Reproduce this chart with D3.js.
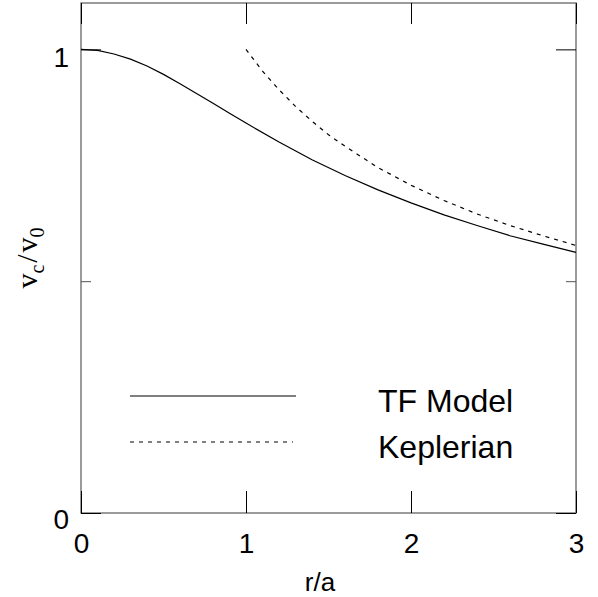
<!DOCTYPE html>
<html>
<head>
<meta charset="utf-8">
<script src="https://cdn.jsdelivr.net/npm/d3@7"></script>
<style>
  body { margin: 0; background: #fff; }
  svg { display: block; }
</style>
</head>
<body>
<div id="chart"></div>
<script>
// TF model rotation curve
const tfR = [0, 0.1, 0.2, 0.3, 0.4, 0.5, 0.6, 0.7, 0.8, 0.9, 1.0, 1.2, 1.4, 1.6, 1.8, 2.0, 2.2, 2.4, 2.6, 2.8, 3.0];
const tfV = [1.000, 0.998, 0.990, 0.979, 0.964, 0.946, 0.926, 0.905, 0.884, 0.862, 0.841, 0.800, 0.762, 0.728, 0.697, 0.669, 0.643, 0.620, 0.598, 0.580, 0.562];

// Keplerian fall-off beyond r = a
const kepR = [1.0, 1.1, 1.2, 1.3, 1.4, 1.5, 1.6, 1.8, 2.0, 2.2, 2.4, 2.6, 2.8, 3.0];
const kepV = [1.000, 0.953, 0.913, 0.877, 0.845, 0.816, 0.791, 0.745, 0.707, 0.674, 0.645, 0.620, 0.598, 0.577];

const xTicks = [0, 1, 2, 3];
const yTicks = [0, 1];
const yMinorTicks = [0.5];
const legendLabels = ['TF Model', 'Keplerian'];

const width = 598, height = 597;
const margin = { top: 3, right: 22, bottom: 84, left: 81 };
const innerW = width - margin.left - margin.right;
const innerH = height - margin.top - margin.bottom;

const svg = d3.select('#chart')
  .append('svg')
  .attr('width', width)
  .attr('height', height);

const g = svg.append('g')
  .attr('transform', `translate(${margin.left},${margin.top})`);

const x = d3.scaleLinear().domain([0, 3]).range([0, innerW]);
const y = d3.scaleLinear().domain([0, 1.1]).range([innerH, 0]);

// frame
g.append('rect')
  .attr('width', innerW)
  .attr('height', innerH)
  .attr('fill', 'none')
  .attr('stroke', '#666')
  .attr('stroke-width', 1.3);

const styleAxis = sel => {
  sel.select('.domain').remove();
  sel.selectAll('.tick line').attr('stroke', '#000').attr('stroke-width', 1);
  sel.selectAll('.tick text')
    .style('font-family', 'Liberation Sans, Arial, sans-serif')
    .style('font-size', '28px')
    .attr('fill', '#000');
};

// bottom axis with labels
g.append('g')
  .attr('transform', `translate(0,${innerH})`)
  .call(d3.axisBottom(x).tickValues(xTicks).tickFormat(d3.format('d'))
    .tickSizeInner(-22).tickSizeOuter(0).tickPadding(20))
  .call(styleAxis);

// top axis, ticks only
g.append('g')
  .call(d3.axisTop(x).tickValues(xTicks).tickFormat('')
    .tickSizeInner(-21).tickSizeOuter(0))
  .call(styleAxis);

// left axis with labels
g.append('g')
  .call(d3.axisLeft(y).tickValues(yTicks).tickFormat(d3.format('d'))
    .tickSizeInner(-20).tickSizeOuter(0).tickPadding(12))
  .call(styleAxis)
  .call(sel => sel.selectAll('.tick text').attr('dy', d => d === 0 ? '0.55em' : '0.6em'));

g.append('g')
  .call(d3.axisLeft(y).tickValues(yMinorTicks).tickFormat('')
    .tickSizeInner(-10).tickSizeOuter(0))
  .call(styleAxis)
  .call(sel => sel.selectAll('.tick line').attr('stroke', '#555'));

// right axis, ticks only
g.append('g')
  .attr('transform', `translate(${innerW},0)`)
  .call(d3.axisRight(y).tickValues(yTicks).tickFormat('')
    .tickSizeInner(-20).tickSizeOuter(0))
  .call(styleAxis);

g.append('g')
  .attr('transform', `translate(${innerW},0)`)
  .call(d3.axisRight(y).tickValues(yMinorTicks).tickFormat('')
    .tickSizeInner(-10).tickSizeOuter(0))
  .call(styleAxis)
  .call(sel => sel.selectAll('.tick line').attr('stroke', '#555'));

// curves
const line = d3.line()
  .x(d => x(d[0]))
  .y(d => y(d[1]));

g.append('path')
  .datum(d3.zip(tfR, tfV))
  .attr('d', line)
  .attr('fill', 'none')
  .attr('stroke', '#000')
  .attr('stroke-width', 1.2);

g.append('path')
  .datum(d3.zip(kepR, kepV))
  .attr('d', line)
  .attr('fill', 'none')
  .attr('stroke', '#000')
  .attr('stroke-width', 1.2)
  .attr('stroke-dasharray', '4,5');

// legend
const legend = svg.append('g');
const legendRows = [
  { label: legendLabels[0], y: 396, dash: null, x2: 296 },
  { label: legendLabels[1], y: 442, dash: '4,5', x2: 293 }
];
legendRows.forEach(row => {
  legend.append('line')
    .attr('x1', 130).attr('x2', row.x2)
    .attr('y1', row.y).attr('y2', row.y)
    .attr('stroke', '#000')
    .attr('stroke-width', 1.2)
    .attr('stroke-dasharray', row.dash);
  legend.append('text')
    .attr('x', 378)
    .attr('y', row.y + 16)
    .style('font-family', 'Liberation Sans, Arial, sans-serif')
    .style('font-size', '32px')
    .text(row.label);
});

// axis titles
svg.append('text')
  .attr('x', 320)
  .attr('y', 591)
  .attr('text-anchor', 'middle')
  .style('font-family', 'Liberation Sans, Arial, sans-serif')
  .style('font-size', '26px')
  .text('r/a');

const yTitle = svg.append('text')
  .attr('transform', 'translate(37,258) rotate(-90)')
  .attr('text-anchor', 'middle')
  .style('font-family', 'Liberation Serif, Times New Roman, serif')
  .style('font-size', '30px');
yTitle.append('tspan').text('v');
yTitle.append('tspan').attr('dy', 7).style('font-size', '20px').text('c');
yTitle.append('tspan').attr('dy', -7).attr('dx', 2).text('/');
yTitle.append('tspan').attr('dx', 2).text('v');
yTitle.append('tspan').attr('dy', 7).style('font-size', '20px').text('0');
</script>
</body>
</html>
